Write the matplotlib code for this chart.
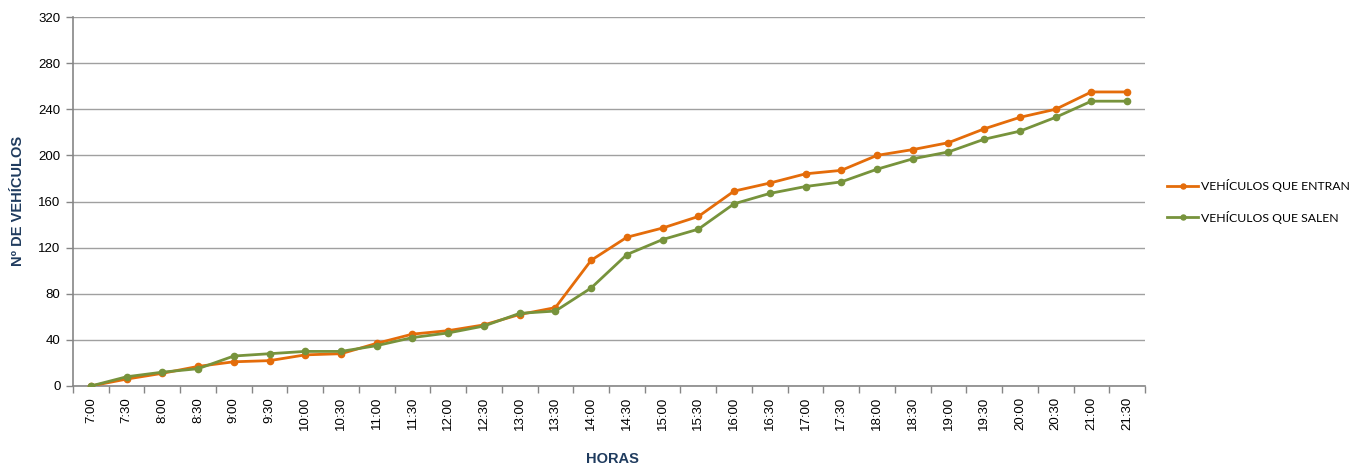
import matplotlib
matplotlib.use("Agg")
import matplotlib.pyplot as plt
from matplotlib.ticker import FixedLocator, NullFormatter

horas = ["7:00", "7:30", "8:00", "8:30", "9:00", "9:30", "10:00", "10:30", "11:00", "11:30",
         "12:00", "12:30", "13:00", "13:30", "14:00", "14:30", "15:00", "15:30", "16:00", "16:30",
         "17:00", "17:30", "18:00", "18:30", "19:00", "19:30", "20:00", "20:30", "21:00", "21:30"]
entran = [0, 6, 11, 17, 21, 22, 27, 28, 37, 45,
          48, 53, 62, 68, 109, 129, 137, 147, 169, 176,
          184, 187, 200, 205, 211, 223, 233, 240, 255, 255]
salen = [0, 8, 12, 15, 26, 28, 30, 30, 35, 42,
         46, 52, 63, 65, 85, 114, 127, 136, 158, 167,
         173, 177, 188, 197, 203, 214, 221, 233, 247, 247]
yticks = [0, 40, 80, 120, 160, 200, 240, 280, 320]

plt.rcParams['font.family'] = ['Liberation Sans', 'DejaVu Sans']

fig = plt.figure(figsize=(13.64, 4.68), dpi=100)
ax = fig.add_axes([73/1364, 1-386/468, (1145-73)/1364, (386-17)/468])

x = list(range(len(horas)))
ax.plot(x, entran, color="#E46C0A", lw=2, marker="o", ms=4.5, label="VEHÍCULOS QUE ENTRAN", zorder=3)
ax.plot(x, salen, color="#77933C", lw=2, marker="o", ms=4.5, label="VEHÍCULOS QUE SALEN", zorder=3)

ax.set_xlim(-0.5, len(horas) - 0.5)
ax.set_ylim(0, 320)
ax.set_yticks(yticks)
ax.set_yticklabels([str(v) for v in yticks], fontsize=9.5)
ax.set_xticks(x)
ax.set_xticklabels(horas, rotation=90, fontsize=9.5)
ax.tick_params(axis='x', which='major', length=0, pad=8)
ax.xaxis.set_minor_locator(FixedLocator([i - 0.5 for i in range(len(horas) + 1)]))
ax.xaxis.set_minor_formatter(NullFormatter())
ax.tick_params(axis='x', which='minor', length=5, color="#868686", width=1)
ax.tick_params(axis='y', length=5, color="#868686", width=1, pad=4)

ax.grid(axis='y', color="#A0A0A0", lw=1)
ax.set_axisbelow(True)
for s in ['top', 'right']:
    ax.spines[s].set_visible(False)
for s in ['left', 'bottom']:
    ax.spines[s].set_color("#868686")
    ax.spines[s].set_linewidth(1.2)

lab_color = "#1F3B5E"
fig.text(18/1364, 1-201/468, "Nº DE VEHÍCULOS", fontsize=10.5, fontweight='bold', color=lab_color,
         rotation=90, ha='center', va='center')
fig.text(612/1364, 1-459/468, "HORAS", fontsize=10.5, fontweight='bold', color=lab_color,
         ha='center', va='center')

leg = ax.legend(loc='center left', bbox_to_anchor=(1.01, 0.5), frameon=False,
                prop={'family': 'Lato', 'size': 8.8}, handlelength=2.6, labelspacing=1.5,
                handletextpad=0.2, markerscale=0.8)

fig.savefig("out.png", dpi=100)
